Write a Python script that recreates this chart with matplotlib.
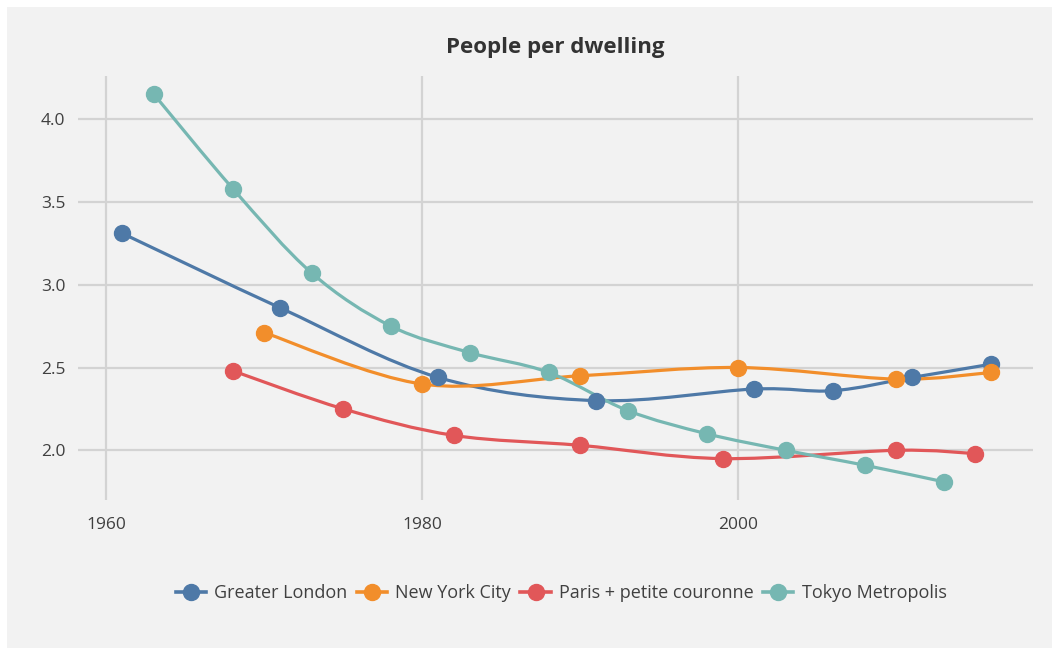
import numpy as np
import matplotlib
matplotlib.use("Agg")
import matplotlib.pyplot as plt
from matplotlib.path import Path
from matplotlib.patches import PathPatch, Rectangle
from matplotlib.lines import Line2D

plt.rcParams['font.family'] = ['Open Sans', 'DejaVu Sans']

# data
london_years = [1961, 1971, 1981, 1991, 2001, 2006, 2011, 2016]
london_vals = [3.31, 2.86, 2.44, 2.30, 2.37, 2.36, 2.44, 2.52]

nyc_years = [1970, 1980, 1990, 2000, 2010, 2016]
nyc_vals = [2.71, 2.40, 2.45, 2.50, 2.43, 2.47]

paris_years = [1968, 1975, 1982, 1990, 1999, 2010, 2015]
paris_vals = [2.48, 2.25, 2.09, 2.03, 1.95, 2.00, 1.98]

tokyo_years = [1963, 1968, 1973, 1978, 1983, 1988, 1993, 1998, 2003, 2008, 2013]
tokyo_vals = [4.15, 3.58, 3.07, 2.75, 2.59, 2.47, 2.24, 2.10, 2.00, 1.91, 1.81]

names = ["Greater London", "New York City", "Paris + petite couronne", "Tokyo Metropolis"]
colors = ["#4e79a7", "#f28e2b", "#e15759", "#76b7b2"]


def smooth_path(x, y):
    # Bezier segments through the points (like a spreadsheet "smoothed line")
    x = np.asarray(x, float)
    y = np.asarray(y, float)
    verts = [(x[0], y[0])]
    codes = [Path.MOVETO]
    n = len(x)
    for i in range(n - 1):
        i0 = max(i - 1, 0)
        i3 = min(i + 2, n - 1)
        c1 = (x[i] + (x[i + 1] - x[i0]) / 6, y[i] + (y[i + 1] - y[i0]) / 6)
        c2 = (x[i + 1] - (x[i3] - x[i]) / 6, y[i + 1] - (y[i3] - y[i]) / 6)
        verts += [c1, c2, (x[i + 1], y[i + 1])]
        codes += [Path.CURVE4] * 3
    return Path(verts, codes)


fig = plt.figure(figsize=(10.59, 6.55), dpi=100, facecolor="white")
fig.patches.append(Rectangle((7 / 1059, 7 / 655), 1045 / 1059, 641 / 655,
                             transform=fig.transFigure, facecolor="#f2f2f2",
                             edgecolor="none", zorder=-1))

ax = fig.add_axes([78 / 1059, 1 - 500 / 655, 955 / 1059, 424 / 655])
ax.set_facecolor("none")

series = [(london_years, london_vals), (nyc_years, nyc_vals),
          (paris_years, paris_vals), (tokyo_years, tokyo_vals)]

handles = []
for (xs, ys), name, c in zip(series, names, colors):
    ax.add_patch(PathPatch(smooth_path(xs, ys), facecolor="none", edgecolor=c,
                           lw=2.3, zorder=3, capstyle="round"))
    ax.plot(xs, ys, linestyle="none", marker="o", markersize=11.5, color=c, zorder=4)
    handles.append(Line2D([], [], color=c, lw=2.6, marker="o", markersize=11.5))

ax.set_xlim(1958.2, 2018.65)
ax.set_ylim(1.70, 4.26)
ax.set_xticks([1960, 1980, 2000])
ax.set_yticks([2.0, 2.5, 3.0, 3.5, 4.0])
ax.set_yticklabels(["2.0", "2.5", "3.0", "3.5", "4.0"])
ax.grid(True, color="#d3d3d3", lw=1.6, zorder=0)
ax.set_axisbelow(True)
for s in ax.spines.values():
    s.set_visible(False)
ax.tick_params(length=0, labelsize=12.5, labelcolor="#404040")
ax.tick_params(axis="x", pad=12)
ax.tick_params(axis="y", pad=9)

fig.text(555 / 1059, 1 - 48 / 655, "People per dwelling", ha="center", va="center",
         fontsize=16, fontweight="bold", color="#333333")

fig.legend(handles, names, loc="center", bbox_to_anchor=(561 / 1059, 1 - 593 / 655),
           ncol=4, frameon=False, fontsize=13, handlelength=1.7,
           columnspacing=0.5, handletextpad=0.45, labelcolor="#404040")

fig.savefig("out.png", dpi=100, facecolor="white")
